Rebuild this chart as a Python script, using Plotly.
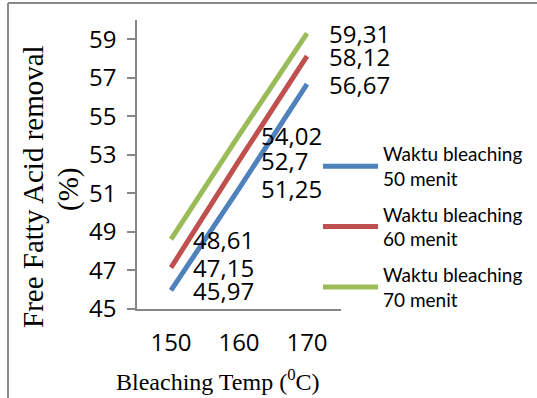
import plotly.graph_objects as go

# Bleaching temperatures (°C)
temps = [150, 160, 170]

# FFA removal (%) for each bleaching time
ffa_50 = [45.97, 51.25, 56.67]
ffa_60 = [47.15, 52.70, 58.12]
ffa_70 = [48.61, 54.02, 59.31]

series_names = ["Waktu bleaching<br>50 menit", "Waktu bleaching<br>60 menit", "Waktu bleaching<br>70 menit"]
series_values = [ffa_50, ffa_60, ffa_70]
series_colors = ["#4F81BD", "#C0504D", "#9BBB59"]

y_ticks = [45, 47, 49, 51, 53, 55, 57, 59]

# plot area in pixels (for placing titles / frame in paper units)
W, H = 537, 398
L, R, T, B = 137, 341, 20, 309


def px_x(p):
    return (p - L) / (R - L)


def px_y(p):
    return (B - p) / (B - T)


def fmt(v):
    return ("%g" % v).replace(".", ",")


NUM_FONT = "Open Sans"
NUM_SIZE = 24

fig = go.Figure()
for i, (name, vals, col) in enumerate(zip(series_names, series_values, series_colors)):
    fig.add_trace(go.Scatter(
        x=temps, y=vals, name=name, mode="lines",
        legendgroup="g%d" % i,
        line=dict(color=col, width=5),
        hoverinfo="skip",
    ))

annotations = []
for vals in series_values:
    for t, v in zip(temps, vals):
        annotations.append(dict(
            x=t, y=v, xref="x", yref="y", text=fmt(v), showarrow=False,
            xanchor="left", yanchor="middle", xshift=20,
            font=dict(family=NUM_FONT, size=NUM_SIZE, color="#000000"),
        ))

# y-axis title (two lines placed separately)
annotations.append(dict(
    x=px_x(33), y=px_y(187), xref="paper", yref="paper",
    text="Free Fatty Acid removal", textangle=-90, showarrow=False,
    xanchor="center", yanchor="middle",
    font=dict(family="Liberation Serif", size=29, color="#000000"),
))
annotations.append(dict(
    x=px_x(68), y=px_y(190), xref="paper", yref="paper",
    text="(%)", textangle=-90, showarrow=False,
    xanchor="center", yanchor="middle",
    font=dict(family="Liberation Serif", size=29, color="#000000"),
))
# x-axis title
annotations.append(dict(
    x=px_x(218), y=px_y(380), xref="paper", yref="paper",
    text="Bleaching Temp (<sup>0</sup>C)", showarrow=False,
    xanchor="center", yanchor="middle",
    font=dict(family="Liberation Serif", size=24, color="#000000"),
))

frame = dict(color="#8a8a8a", width=2)
shapes = [
    dict(type="line", xref="paper", yref="paper",
         x0=px_x(8), x1=px_x(W + 5), y0=px_y(3), y1=px_y(3), line=frame),
    dict(type="line", xref="paper", yref="paper",
         x0=px_x(8), x1=px_x(8), y0=px_y(3), y1=px_y(H + 5), line=frame),
]

fig.update_layout(
    width=W, height=H,
    margin=dict(l=L, r=W - R, t=T, b=H - B, autoexpand=False),
    paper_bgcolor="#ffffff", plot_bgcolor="#ffffff",
    showlegend=True,
    legend=dict(
        x=px_x(318), y=px_y(135), xanchor="left", yanchor="top",
        bgcolor="rgba(0,0,0,0)",
        font=dict(family="Lato", size=19, color="#000000"),
        itemwidth=55, traceorder="grouped", tracegroupgap=8,
    ),
    xaxis=dict(
        range=[145, 175], tickvals=temps,
        showgrid=False, zeroline=False,
        showline=True, linecolor="#868686", linewidth=1.5,
        ticks="", tickfont=dict(family=NUM_FONT, size=NUM_SIZE, color="#000000"),
        ticklabelstandoff=11,
    ),
    yaxis=dict(
        range=[45, 60], tickvals=y_ticks,
        showgrid=False, zeroline=False,
        showline=True, linecolor="#868686", linewidth=1.5,
        ticks="outside", ticklen=8, tickcolor="#868686", tickwidth=1.5,
        tickfont=dict(family=NUM_FONT, size=NUM_SIZE, color="#000000"),
        ticklabelstandoff=6,
    ),
    annotations=annotations,
    shapes=shapes,
)

fig.write_html("out.html")
